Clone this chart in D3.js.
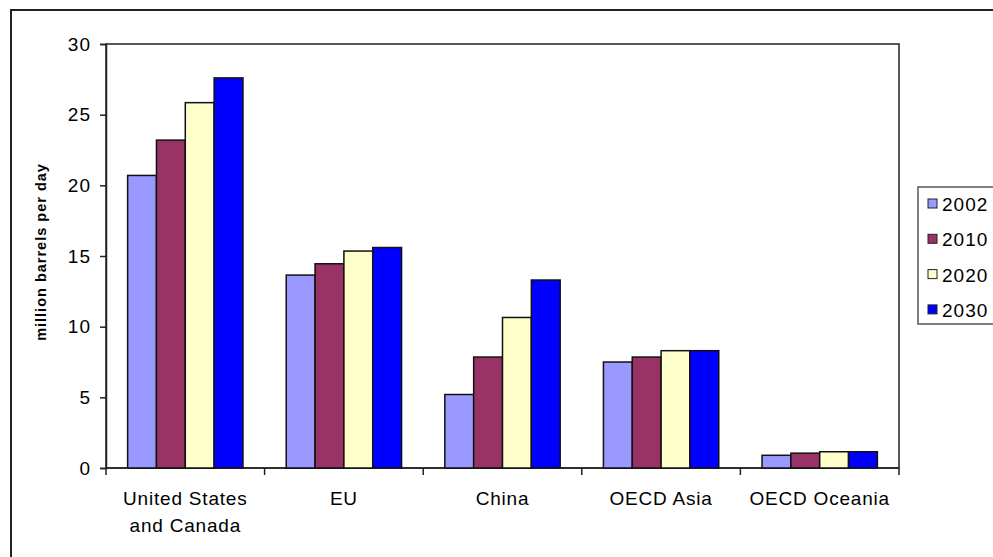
<!DOCTYPE html>
<html>
<head>
<meta charset="utf-8">
<script src="https://cdn.jsdelivr.net/npm/d3@7"></script>
<style>
  body { margin: 0; background: #fff; }
  svg { display: block; font-family: "Liberation Sans", Arial, sans-serif; }
</style>
</head>
<body>
<div id="chart"></div>
<script>
// chart data
const categories = [["United States", "and Canada"], ["EU"], ["China"], ["OECD Asia"], ["OECD Oceania"]];
const years = ["2002", "2010", "2020", "2030"];
const v2002 = [20.7, 13.65, 5.2, 7.5, 0.9];
const v2010 = [23.2, 14.45, 7.85, 7.85, 1.05];
const v2020 = [25.85, 15.35, 10.65, 8.3, 1.15];
const v2030 = [27.6, 15.6, 13.3, 8.3, 1.15];
const series = [v2002, v2010, v2020, v2030];
const colors = ["#9999ff", "#993366", "#ffffcc", "#0000ff"];
const yTicks = [0, 5, 10, 15, 20, 25, 30];

function main() {
	const W = 993, H = 557;
	var margin = {top: 44, left: 106, right: 94, bottom: 89};
	var width = W - margin.left - margin.right;
	var height = H - margin.top - margin.bottom;

	var svg = d3.select("#chart").append("svg")
		.attr("width", W).attr("height", H);

	// outer chart frame (runs off the right and bottom edges)
	svg.append("rect")
		.attr("x", 11).attr("y", 10)
		.attr("width", W + 20).attr("height", H + 20)
		.attr("fill", "none").attr("stroke", "#222").attr("stroke-width", 2);

	var g = svg.append("g")
		.attr("transform", "translate(" + margin.left + "," + margin.top + ")");

	var x0 = d3.scaleBand().domain(d3.range(categories.length)).range([0, width]).paddingInner(0);
	var bw = x0.bandwidth() / (series.length + 1.5);
	var x1 = d3.scaleBand().domain(d3.range(series.length))
		.range([bw * 0.75, bw * 0.75 + bw * series.length]);
	var y = d3.scaleLinear().domain([0, 30]).range([height, 0]);

	// plot area border
	g.append("rect").attr("width", width).attr("height", height)
		.attr("fill", "none").attr("stroke", "#222").attr("stroke-width", 1.5);

	// y axis
	var yAxis = g.append("g")
		.call(d3.axisLeft(y).tickValues(yTicks).tickSize(6).tickPadding(9));
	yAxis.select(".domain").attr("stroke", "#222").attr("stroke-width", 1.5);
	yAxis.selectAll(".tick line").attr("stroke", "#222").attr("stroke-width", 1.5);
	yAxis.selectAll("text").attr("font-size", 19).attr("fill", "#000")
		.attr("letter-spacing", 1)
		.attr("font-family", "Liberation Sans, Arial, sans-serif");

	// x axis: ticks between categories
	var xAxisG = g.append("g").attr("transform", "translate(0," + height + ")");
	xAxisG.append("line").attr("x1", 0).attr("x2", width)
		.attr("stroke", "#222").attr("stroke-width", 1.5);
	xAxisG.selectAll(".xt").data(d3.range(categories.length + 1)).enter()
		.append("line").attr("class", "xt")
		.attr("x1", d => d * x0.step()).attr("x2", d => d * x0.step())
		.attr("y1", 0).attr("y2", 7)
		.attr("stroke", "#222").attr("stroke-width", 1.5);
	var lbl = xAxisG.selectAll(".xl").data(categories).enter()
		.append("text").attr("class", "xl")
		.attr("text-anchor", "middle").attr("font-size", 19)
		.attr("letter-spacing", 0.8)
		.attr("x", (d, i) => x0(i) + x0.bandwidth() / 2)
		.attr("y", 37);
	lbl.selectAll("tspan").data(d => d).enter().append("tspan")
		.attr("x", function() { return this.parentNode.getAttribute("x"); })
		.attr("dy", (d, i) => i === 0 ? 0 : 27)
		.text(d => d);

	// bars
	series.forEach(function(vals, s) {
		g.selectAll(".bar" + s).data(vals).enter()
			.append("rect")
			.attr("x", (d, i) => x0(i) + x1(s))
			.attr("y", d => y(d))
			.attr("width", x1.bandwidth())
			.attr("height", d => height - y(d))
			.attr("fill", colors[s])
			.attr("stroke", "#111").attr("stroke-width", 1.5);
	});

	// y label
	svg.append("text")
		.attr("transform", "translate(46,252) rotate(-90)")
		.attr("text-anchor", "middle").attr("font-size", 14.5).attr("font-weight", "bold")
		.attr("letter-spacing", 1)
		.text("million barrels per day");

	// legend
	var lg = svg.append("g").attr("transform", "translate(918,187)");
	lg.append("rect").attr("width", 90).attr("height", 137)
		.attr("fill", "#fff").attr("stroke", "#555").attr("stroke-width", 1.5);
	years.forEach(function(yr, i) {
		var cy = 17 + i * 35.3;
		lg.append("rect").attr("x", 10).attr("y", cy - 5).attr("width", 9).attr("height", 9)
			.attr("fill", colors[i]).attr("stroke", "#222").attr("stroke-width", 1);
		lg.append("text").attr("x", 24).attr("y", cy + 7)
			.attr("font-size", 19).attr("letter-spacing", 1).text(yr);
	});
}

function whenDocumentLoaded(action) {
	if (document.readyState === "loading") {
		document.addEventListener("DOMContentLoaded", action);
	} else {
		action();
	}
}

whenDocumentLoaded(() => {
	main();
});
</script>
</body>
</html>
